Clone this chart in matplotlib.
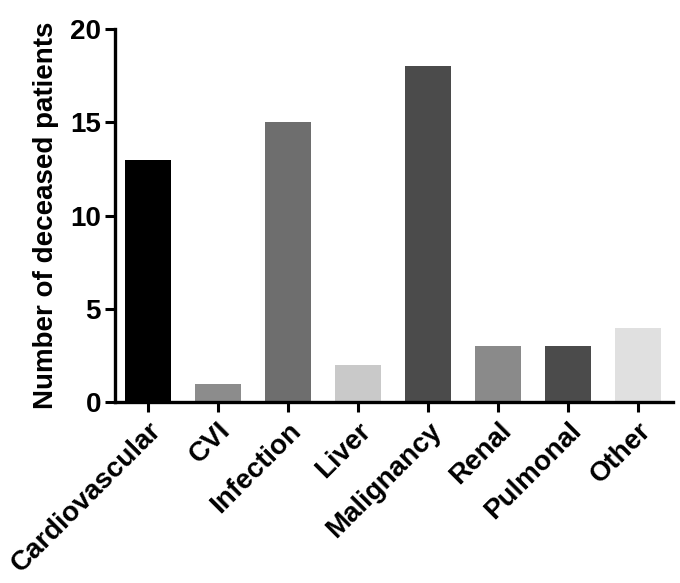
import matplotlib
matplotlib.use("Agg")
import matplotlib.pyplot as plt

# causes of death and counts
causes = ["Cardiovascular", "CVI", "Infection", "Liver", "Malignancy",
          "Renal", "Pulmonal", "Other"]
deaths = [13, 1, 15, 2, 18, 3, 3, 4]
bar_colors = ["#000000", "#8c8c8c", "#6e6e6e", "#c9c9c9", "#4b4b4b",
              "#8a8a8a", "#4b4b4b", "#e0e0e0"]

plt.rcParams["font.family"] = ["Liberation Sans", "DejaVu Sans"]
plt.rcParams["font.weight"] = "bold"

fig = plt.figure(figsize=(6.8, 5.83), dpi=100)
ax = fig.add_axes([0.169, 0.310, 0.821, 0.640])

x = range(len(causes))
ax.bar(x, deaths, width=0.66, color=bar_colors)

ax.set_xlim(-0.47, 7.5)
ax.set_ylim(0, 20)
ax.set_yticks([0, 5, 10, 15, 20])
ax.set_xticks(list(x))
ax.set_xticklabels(causes, rotation=45, ha="right", rotation_mode="anchor",
                   fontsize=20, fontweight="bold")
ax.tick_params(axis="y", labelsize=20, width=2.2, length=7, pad=3)
ax.tick_params(axis="x", width=2.2, length=7, pad=4)
for lbl in ax.get_yticklabels():
    lbl.set_fontweight("bold")

ax.set_ylabel("Number of deceased patients", fontsize=20, fontweight="bold",
              labelpad=8)

for side in ["top", "right"]:
    ax.spines[side].set_visible(False)
for side in ["left", "bottom"]:
    ax.spines[side].set_linewidth(2.4)

fig.savefig("out.png", dpi=100)
